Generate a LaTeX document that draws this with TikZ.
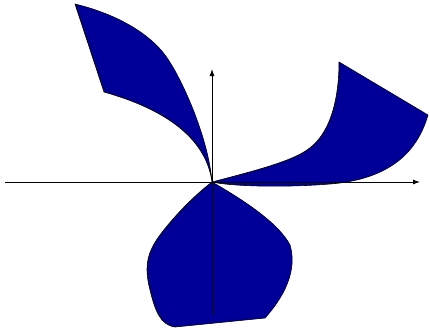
\documentclass[tikz,border=0pt]{standalone}
\usetikzlibrary{arrows.meta}
\definecolor{petal}{RGB}{0,0,153}
\begin{document}
\begin{tikzpicture}[x=1pt,y=-1pt,
  petalshape/.style={fill=petal,draw=black,line width=0.6pt,line join=round},
  axis/.style={draw=black,line width=0.9pt,-{Latex[length=7pt,width=5pt]}}]
\useasboundingbox (0,0) rectangle (429,333);
\coordinate (O) at (212,182);
\coordinate (xs) at (5,182);
\coordinate (xe) at (420,182);
\coordinate (ys) at (212,315);
\coordinate (ye) at (212,69);
% top-left petal
\path[petalshape] (O) .. controls (208,135) and (180,75) .. (165,55)
  .. controls (150,35) and (120,15) .. (75,4)
  -- (104,92)
  .. controls (150,105) and (205,130) .. (O) -- cycle;
% right petal
\path[petalshape] (O) .. controls (250,172) and (290,162) .. (307,150)
  .. controls (330,135) and (339,100) .. (339,62)
  -- (428,115)
  .. controls (415,160) and (380,180) .. (330,184)
  .. controls (280,188) and (230,186) .. (O) -- cycle;
% bottom petal
\path[petalshape] (O) .. controls (240,198) and (278,222) .. (290,245)
  .. controls (296,265) and (290,290) .. (265,318)
  -- (175,327)
  .. controls (160,325) and (155,310) .. (150,290)
  .. controls (145,270) and (145,255) .. (160,235)
  .. controls (175,215) and (195,195) .. (O) -- cycle;
% axes
\draw[axis] (xs) -- (xe);
\draw[axis] (ys) -- (ye);
\end{tikzpicture}
\end{document}
